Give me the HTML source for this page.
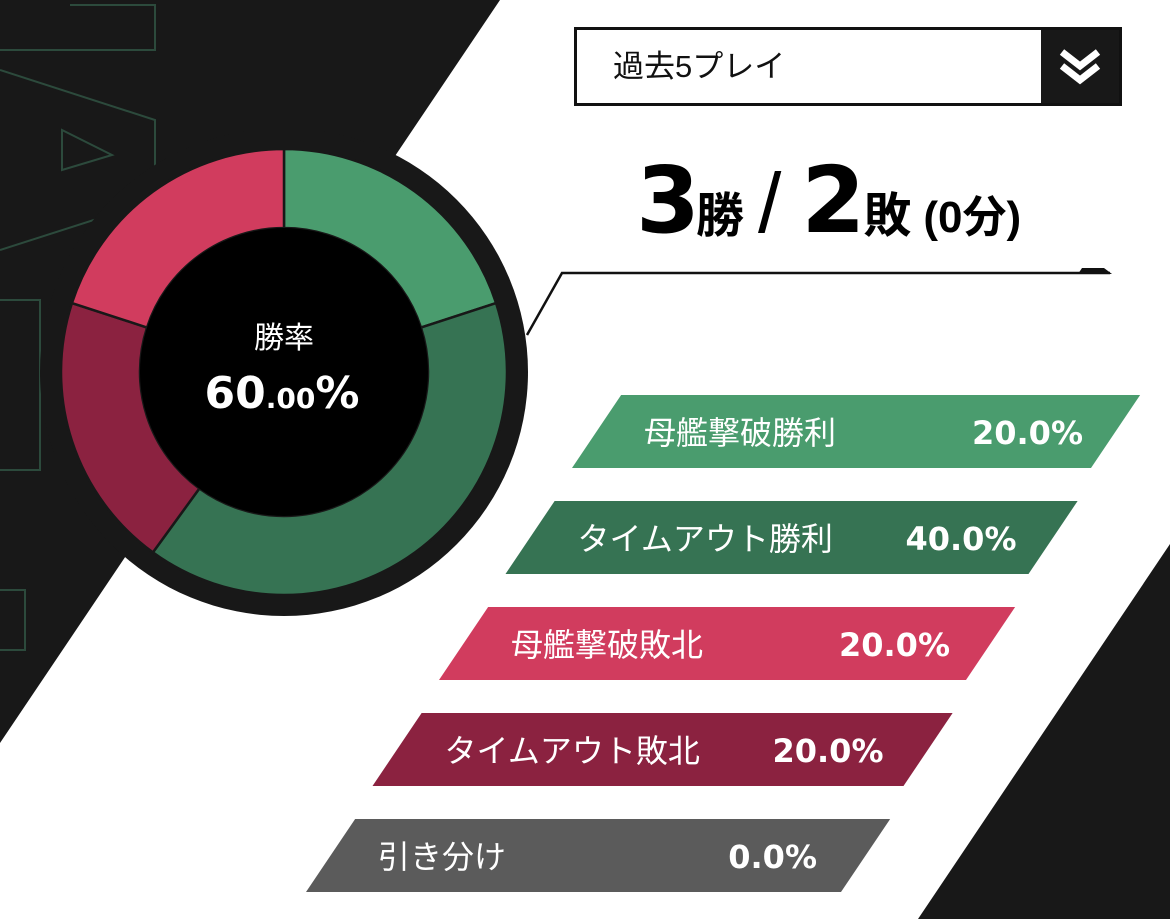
<!DOCTYPE html>
<html><head><meta charset="utf-8">
<style>
html,body{margin:0;padding:0;background:#fff;}
body{width:1170px;height:919px;position:relative;overflow:hidden;font-family:"Liberation Sans","Noto Sans CJK JP",sans-serif;}
.abs{position:absolute;}
</style></head>
<body>
<svg class="abs" style="left:0;top:0" width="1170" height="919">
  <polygon points="0,0 500,0 0,743" fill="#181818"/>
  <polygon points="1170,544 1170,919 918,919" fill="#181818"/>
  <g stroke="#2c4a3c" stroke-width="2" fill="none">
    <polyline points="0,50 155,50 155,5 70,5"/>
    <polyline points="0,70 155,120 155,185 125,210 0,250"/>
    <polygon points="62,130 112,155 62,170"/>
    <polyline points="0,300 40,300 40,470 0,470"/>
    <polyline points="0,590 25,590 25,650 0,650"/>
  </g>
  <polyline points="527,335 562,273 1110,273" fill="none" stroke="#111" stroke-width="2.5"/>
  <polygon points="1082,268 1104,268 1112,274 1078,274" fill="#111"/>
  <g id="bars"></g>
  <circle cx="284" cy="372" r="244" fill="#181818"/>
  <g id="pie"></g>
  <circle cx="284" cy="372" r="144" fill="#000"/>
  <text x="284" y="348" fill="#fff" font-size="30" text-anchor="middle" font-family="Liberation Sans, Noto Sans CJK JP, sans-serif">勝率</text>
  <text x="282" y="408" fill="#fff" text-anchor="middle" font-weight="bold" font-family="DejaVu Sans, sans-serif"><tspan font-size="44">60</tspan><tspan font-size="28">.00</tspan><tspan font-size="44">%</tspan></text>
</svg>

<div class="abs" style="left:574px;top:27px;width:542px;height:73px;border:3px solid #111;background:#fff">
  <div class="abs" style="left:36px;top:0;line-height:73px;font-size:31px;color:#111">過去5プレイ</div>
  <div class="abs" style="right:0;top:0;width:78px;height:73px;background:#181818">
    <svg width="78" height="73">
      <polyline points="21,22 39,36 57,22" fill="none" stroke="#fff" stroke-width="7"/>
      <polyline points="21,36 39,50 57,36" fill="none" stroke="#fff" stroke-width="7"/>
    </svg>
  </div>
</div>

<div class="abs" style="left:636px;top:146px;white-space:nowrap;color:#000;font-weight:bold;line-height:110px">
  <span style="font-size:92px;font-family:'DejaVu Sans',sans-serif;font-weight:900;letter-spacing:-4px">3</span><span style="font-size:48px">勝</span><span style="font-size:84px;font-weight:normal;margin:0 20px 0 14px">/</span><span style="font-size:92px;font-family:'DejaVu Sans',sans-serif;letter-spacing:-2px">2</span><span style="font-size:48px">敗</span><span style="font-size:44px;margin-left:12px">(0分)</span>
</div>

<script>
const categories = ["母艦撃破勝利","タイムアウト勝利","母艦撃破敗北","タイムアウト敗北","引き分け"];
const values = [20.0, 40.0, 20.0, 20.0, 0.0];
const colors = ["#4a9c6e","#367353","#d13c5e","#8b2240","#5b5b5b"];
const NS = "http://www.w3.org/2000/svg";

// donut
const pie = document.getElementById("pie");
const cx = 284, cy = 372, R = 223, r0 = 144;
const total = values.reduce((a,b)=>a+b,0);
function pt(a, rad){ return [cx + rad*Math.sin(a), cy - rad*Math.cos(a)]; }
let acc = 0;
const pieOrder = [0,1,3,2];
pieOrder.forEach(i=>{
  const v = values[i];
  if(v<=0) return;
  const a0 = acc/total*2*Math.PI, a1 = (acc+v)/total*2*Math.PI;
  acc += v;
  const large = (a1-a0) > Math.PI ? 1 : 0;
  const p0 = pt(a0,R), p1 = pt(a1,R), q1 = pt(a1,r0), q0 = pt(a0,r0);
  const p = document.createElementNS(NS,"path");
  p.setAttribute("d",`M${p0} A${R},${R} 0 ${large} 1 ${p1} L${q1} A${r0},${r0} 0 ${large} 0 ${q0} Z`);
  p.setAttribute("fill",colors[i]);
  p.setAttribute("stroke","#181818");
  p.setAttribute("stroke-width","2.5");
  
  
  pie.appendChild(p);
});

// bars
const bars = document.getElementById("bars");
const slant = 0.673, h = 73;
categories.forEach((c,i)=>{
  const w = 519 + i*4;
  const top = 395 + i*106;
  const bl = 572 - i*66.5;
  const tl = bl + slant*h;
  const g = document.createElementNS(NS,"g");
  
  
  const poly = document.createElementNS(NS,"polygon");
  poly.setAttribute("points",`${bl},${top+h} ${tl},${top} ${tl+w},${top} ${bl+w},${top+h}`);
  poly.setAttribute("fill",colors[i]);
  
  
  g.appendChild(poly);
  const t = document.createElementNS(NS,"text");
  t.setAttribute("x", bl + 72);
  t.setAttribute("y", top + 49);
  t.setAttribute("fill","#fff");
  t.setAttribute("font-size","32");
  t.setAttribute("font-family","Liberation Sans, Noto Sans CJK JP, sans-serif");
  
  
  t.textContent = c;
  g.appendChild(t);
  const vt = document.createElementNS(NS,"text");
  vt.setAttribute("x", bl + 511);
  vt.setAttribute("y", top + 49);
  vt.setAttribute("fill","#fff");
  vt.setAttribute("font-size","32");
  vt.setAttribute("font-weight","bold");
  vt.setAttribute("text-anchor","end");
  vt.setAttribute("font-family","DejaVu Sans, sans-serif");
  
  
  vt.textContent = values[i].toFixed(1) + "%";
  g.appendChild(vt);
  bars.appendChild(g);
});
</script>
</body></html>
